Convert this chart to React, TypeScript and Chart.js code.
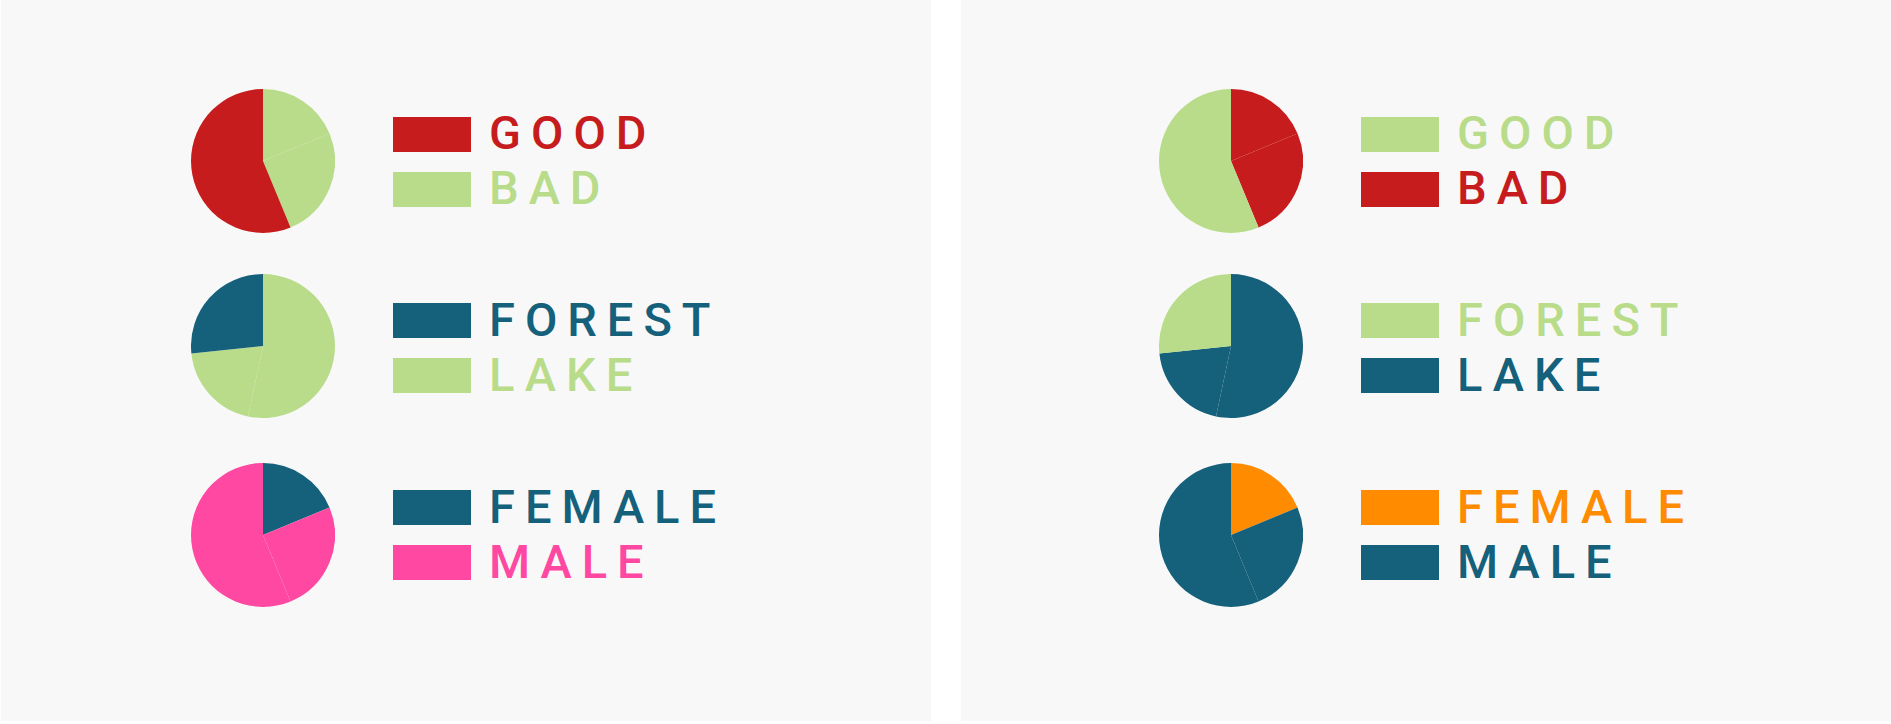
import React, { useEffect, useRef } from "react";
import { Chart, registerables } from "chart.js";

Chart.register(...registerables);

// ---- data ----
const moodLegend = ["GOOD", "BAD"];
const moodSlices = ["BAD", "BAD", "GOOD"];
const moodValues = [3, 4, 9];

const placeLegend = ["FOREST", "LAKE"];
const placeSlices = ["LAKE", "LAKE", "FOREST"];
const placeValues = [8, 3, 4];

const sexLegend = ["FEMALE", "MALE"];
const sexSlices = ["FEMALE", "MALE", "MALE"];
const sexValues = [3, 4, 9];

// ---- colours ----
const RED = "#c71c1d";
const GREEN = "#b8dc89";
const BLUE = "#15607a";
const PINK = "#fe48a2";
const ORANGE = "#fe8b00";

const leftMoodColors = [RED, GREEN];
const leftPlaceColors = [BLUE, GREEN];
const leftSexColors = [BLUE, PINK];
const rightMoodColors = [GREEN, RED];
const rightPlaceColors = [GREEN, BLUE];
const rightSexColors = [ORANGE, BLUE];

type Group = {
  legend: string[];
  slices: string[];
  values: number[];
};

const groups: Group[] = [
  { legend: moodLegend, slices: moodSlices, values: moodValues },
  { legend: placeLegend, slices: placeSlices, values: placeValues },
  { legend: sexLegend, slices: sexSlices, values: sexValues },
];

const leftPalettes = [leftMoodColors, leftPlaceColors, leftSexColors];
const rightPalettes = [rightMoodColors, rightPlaceColors, rightSexColors];

const PIE_SIZE = 144;
const pieTops = [89, 274, 463];
const rowTops = [
  [116.7, 171.7],
  [303.3, 358.3],
  [490, 545],
];

function Pie({ group, colors }: { group: Group; colors: string[] }) {
  const ref = useRef<HTMLCanvasElement>(null);
  useEffect(() => {
    if (!ref.current) return;
    const bg = group.slices.map((s) => colors[group.legend.indexOf(s)]);
    const chart = new Chart(ref.current, {
      type: "pie",
      data: {
        labels: group.slices,
        datasets: [
          {
            data: group.values,
            backgroundColor: bg,
            borderWidth: 0,
          },
        ],
      },
      options: {
        responsive: false,
        animation: false,
        layout: { padding: 0 },
        plugins: {
          legend: { display: false },
          tooltip: { enabled: false },
        },
      },
    });
    return () => chart.destroy();
  }, [group, colors]);
  return <canvas ref={ref} width={PIE_SIZE} height={PIE_SIZE} style={{ display: "block", width: PIE_SIZE, height: PIE_SIZE }} />;
}

function Panel({ left, offset, palettes }: { left: number; offset: number; palettes: string[][] }) {
  return (
    <>
      <div
        style={{
          position: "absolute",
          left,
          top: 0,
          width: 930,
          height: 721,
          background: "#f8f8f8",
        }}
      />
      {groups.map((g, gi) => (
        <React.Fragment key={gi}>
          <div style={{ position: "absolute", left: 191 + offset, top: pieTops[gi] }}>
            <Pie group={g} colors={palettes[gi]} />
          </div>
          {g.legend.map((name, li) => (
            <React.Fragment key={name}>
              <div
                style={{
                  position: "absolute",
                  left: 393 + offset,
                  top: rowTops[gi][li],
                  width: 78,
                  height: 35,
                  background: palettes[gi][li],
                }}
              />
              <div
                style={{
                  position: "absolute",
                  left: 489 + offset,
                  top: rowTops[gi][li] - 7.4,
                  fontFamily: "Roboto",
                  fontWeight: 500,
                  fontSize: 47,
                  lineHeight: "47px",
                  letterSpacing: 10,
                  color: palettes[gi][li],
                  whiteSpace: "nowrap",
                }}
              >
                {name}
              </div>
            </React.Fragment>
          ))}
        </React.Fragment>
      ))}
    </>
  );
}

export default function App() {
  useEffect(() => {
    document.body.style.margin = "0";
    document.body.style.background = "#ffffff";
  }, []);
  return (
    <div style={{ position: "absolute", left: 0, top: 0, width: 1891, height: 724, overflow: "hidden", background: "#ffffff" }}>
      <Panel left={1} offset={0} palettes={leftPalettes} />
      <Panel left={961} offset={968} palettes={rightPalettes} />
    </div>
  );
}
